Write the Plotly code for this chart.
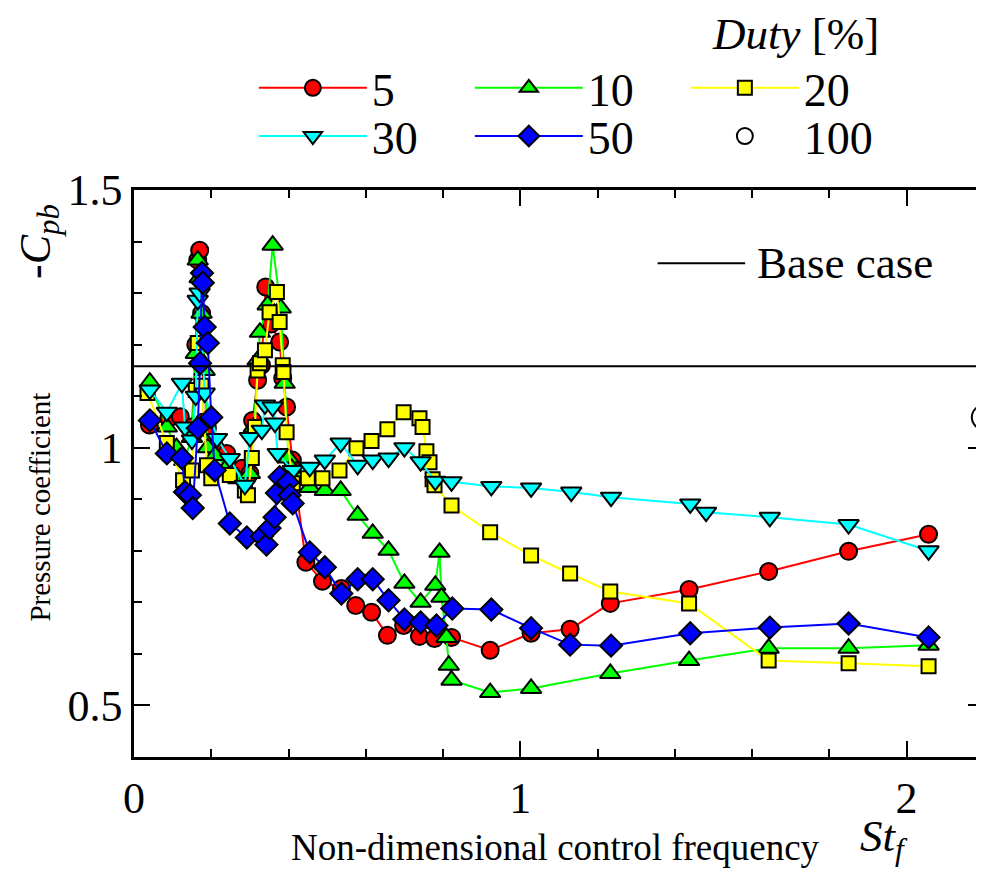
import plotly.graph_objects as go

# ---------------- data ----------------
red_x = [0.040, 0.090, 0.120, 0.150, 0.160, 0.165, 0.170, 0.175, 0.180, 0.190, 0.210, 0.240, 0.280, 0.300,
         0.307, 0.320, 0.330, 0.341, 0.355, 0.377, 0.385, 0.395, 0.410, 0.445, 0.488, 0.537, 0.574, 0.615,
         0.656, 0.698, 0.739, 0.778, 0.822, 0.922, 1.028, 1.129, 1.233, 1.437, 1.643, 1.850, 2.057]
red_y = [1.044, 1.057, 1.060, 1.040, 1.200, 1.364, 1.383, 1.261, 1.050, 1.038, 1.000, 0.989, 0.960, 0.950,
         1.053, 1.131, 1.160, 1.312, 1.240, 1.205, 1.135, 1.079, 0.976, 0.778, 0.741, 0.727, 0.694, 0.681,
         0.636, 0.655, 0.634, 0.630, 0.632, 0.607, 0.640, 0.648, 0.698, 0.725, 0.760, 0.799, 0.832]

green_x = [0.041, 0.085, 0.110, 0.130, 0.150, 0.160, 0.165, 0.170, 0.175, 0.183, 0.191, 0.210, 0.240, 0.270,
           0.300, 0.310, 0.320, 0.326, 0.346, 0.359, 0.380, 0.390, 0.400, 0.408, 0.455, 0.494, 0.535, 0.579,
           0.618, 0.659, 0.700, 0.742, 0.780, 0.791, 0.796, 0.809, 0.815, 0.822, 0.922, 1.028, 1.233, 1.437,
           1.643, 1.850, 2.057]
green_y = [1.127, 1.040, 1.000, 0.975, 1.020, 1.183, 1.364, 1.330, 1.261, 1.150, 1.000, 0.985, 0.962, 0.940,
           0.950, 1.040, 1.170, 1.224, 1.277, 1.393, 1.271, 1.125, 0.980, 0.960, 0.923, 0.917, 0.917, 0.869,
           0.834, 0.801, 0.737, 0.700, 0.733, 0.797, 0.710, 0.632, 0.578, 0.549, 0.525, 0.533, 0.562, 0.587,
           0.611, 0.611, 0.617]

yellow_x = [0.035, 0.085, 0.127, 0.150, 0.160, 0.165, 0.175, 0.189, 0.200, 0.248, 0.287, 0.295, 0.305, 0.313,
            0.320, 0.326, 0.339, 0.351, 0.370, 0.377, 0.385, 0.387, 0.395, 0.411, 0.450, 0.488, 0.532, 0.576,
            0.615, 0.656, 0.698, 0.739, 0.747, 0.757, 0.765, 0.773, 0.778, 0.822, 0.922, 1.028, 1.129, 1.233,
            1.437, 1.643, 1.850, 2.057]
yellow_y = [1.106, 1.009, 0.937, 0.956, 1.112, 1.203, 1.120, 0.966, 0.941, 0.947, 0.917, 0.908, 0.980, 1.040,
            1.150, 1.164, 1.189, 1.263, 1.302, 1.244, 1.160, 1.147, 1.030, 0.931, 0.941, 0.941, 0.956, 0.999,
            1.013, 1.036, 1.069, 1.057, 1.040, 0.993, 0.972, 0.939, 0.927, 0.888, 0.836, 0.791, 0.756, 0.721,
            0.698, 0.587, 0.582, 0.576]

cyan_x = [0.041, 0.085, 0.124, 0.132, 0.150, 0.160, 0.165, 0.170, 0.183, 0.215, 0.248, 0.287, 0.300, 0.331,
          0.339, 0.359, 0.365, 0.372, 0.411, 0.455, 0.494, 0.535, 0.579, 0.618, 0.659, 0.700, 0.742, 0.780,
          0.822, 0.925, 1.028, 1.132, 1.235, 1.440, 1.481, 1.646, 1.850, 2.057]
cyan_y = [1.112, 1.069, 1.125, 1.040, 1.015, 1.100, 1.286, 1.300, 1.106, 1.018, 0.979, 0.927, 1.020, 1.034,
          1.083, 1.079, 1.048, 0.989, 0.956, 0.962, 0.976, 1.009, 0.966, 0.976, 0.980, 1.000, 0.973, 0.935,
          0.934, 0.925, 0.922, 0.914, 0.904, 0.891, 0.875, 0.865, 0.851, 0.800]

blue_x = [0.041, 0.085, 0.124, 0.132, 0.145, 0.152, 0.165, 0.171, 0.176, 0.178, 0.183, 0.191, 0.200, 0.209,
          0.248, 0.292, 0.331, 0.343, 0.351, 0.364, 0.370, 0.377, 0.398, 0.403, 0.411, 0.455, 0.494, 0.537,
          0.579, 0.618, 0.659, 0.700, 0.742, 0.783, 0.824, 0.925, 1.028, 1.129, 1.235, 1.440, 1.646, 1.850, 2.057]
blue_y = [1.053, 0.989, 0.980, 0.914, 0.908, 0.883, 1.038, 1.164, 1.339, 1.320, 1.234, 1.203, 1.059, 0.956,
          0.853, 0.826, 0.828, 0.812, 0.844, 0.865, 0.912, 0.943, 0.933, 0.908, 0.892, 0.797, 0.768, 0.717,
          0.745, 0.745, 0.704, 0.667, 0.661, 0.655, 0.688, 0.686, 0.650, 0.618, 0.616, 0.640, 0.651, 0.659, 0.632]

full_x = [2.2]
full_y = [1.059]

base_case = 1.158

series_names = ["5", "10", "20", "30", "50", "100"]

# ---------------- style ----------------
FONT = "Liberation Serif, Times New Roman, serif"
OUT = dict(color="black", width=2)

fig = go.Figure()

def add_series(x, y, name, color, symbol, size, legend):
    fig.add_trace(go.Scatter(
        x=x, y=y, name=name, mode="lines+markers", legend=legend,
        line=dict(color=color, width=2),
        marker=dict(symbol=symbol, size=size, color=color, line=OUT),
    ))

add_series(red_x, red_y, series_names[0], "#ff0000", "circle", 17, "legend")
add_series(green_x, green_y, series_names[1], "#00ff00", "triangle-up", 18, "legend")
add_series(yellow_x, yellow_y, series_names[2], "#ffff00", "square", 14, "legend")
add_series(cyan_x, cyan_y, series_names[3], "#00ffff", "triangle-down", 18, "legend2")
add_series(blue_x, blue_y, series_names[4], "#0000ff", "diamond", 17, "legend2")

fig.add_trace(go.Scatter(
    x=full_x, y=full_y, name=series_names[5], mode="markers", cliponaxis=False, legend="legend2",
    marker=dict(symbol="circle-open", size=24, color="black", line=dict(color="black", width=2)),
))

# invisible trace to activate the right-hand tick axis
fig.add_trace(go.Scatter(x=[None], y=[None], yaxis="y2", showlegend=False, hoverinfo="skip"))

# base case line
fig.add_shape(type="line", xref="paper", x0=0, x1=1, yref="y", y0=base_case, y1=base_case,
              line=dict(color="black", width=2))
# base case key
fig.add_shape(type="line", xref="paper", x0=0.616, x1=0.719, yref="paper", y0=0.871, y1=0.871,
              line=dict(color="black", width=2))
fig.add_annotation(text="Base case", xref="paper", yref="paper", x=0.731, y=0.871,
                   xanchor="left", yanchor="middle", showarrow=False,
                   font=dict(family=FONT, size=45, color="black"))

# legend title
fig.add_annotation(text="<i>Duty</i> [%]", xref="paper", yref="paper", x=0.879, y=1.276,
                   xanchor="right", yanchor="middle", showarrow=False,
                   font=dict(family=FONT, size=45, color="black"))

# axis titles
fig.add_annotation(text="Non-dimensional control frequency", xref="paper", yref="paper",
                   x=0.496, y=-0.160, xanchor="center", yanchor="middle", showarrow=False,
                   font=dict(family=FONT, size=37, color="black"))
fig.add_annotation(text="<i>St<sub>f</sub></i>", xref="paper", yref="paper",
                   x=0.882, y=-0.145, xanchor="center", yanchor="middle", showarrow=False,
                   font=dict(family=FONT, size=45, color="black"))
fig.add_annotation(text="Pressure coefficient", xref="paper", yref="paper",
                   x=-0.111, y=0.441, xanchor="center", yanchor="middle", showarrow=False,
                   textangle=-90, font=dict(family=FONT, size=29, color="black"))
fig.add_annotation(text="<i>-C<sub>pb</sub></i>", xref="paper", yref="paper",
                   x=-0.113, y=0.910, xanchor="center", yanchor="middle", showarrow=False,
                   textangle=-90, font=dict(family=FONT, size=44, color="black"))

axis_common = dict(showgrid=False, zeroline=False, ticks="inside", tickcolor="black",
                   tickwidth=2, linecolor="black", linewidth=2.5,
                   tickfont=dict(family=FONT, size=44, color="black"))

legend_common = dict(orientation="h", xanchor="left", yanchor="middle",
                     entrywidth=93, entrywidthmode="pixels", itemwidth=108,
                     traceorder="normal", bgcolor="rgba(0,0,0,0)",
                     font=dict(family=FONT, size=46, color="black"))

# the page body has an 8 px margin, so the figure is 8 px smaller and margins shifted
fig.update_layout(
    width=976, height=864, autosize=False,
    margin=dict(l=126, r=0, t=182, b=115, autoexpand=False),
    plot_bgcolor="white", paper_bgcolor="white",
    font=dict(family=FONT, color="black"),
    xaxis=dict(range=[0, 2.2005], dtick=1, tick0=0, ticklen=16, showline=True, mirror="ticks",
               minor=dict(dtick=0.2, ticks="inside", ticklen=8, tickcolor="black", tickwidth=2),
               **axis_common),
    yaxis=dict(range=[0.4, 1.5], dtick=0.5, tick0=0, ticklen=16, showline=True, mirror=False,
               minor=dict(dtick=0.1, ticks="inside", ticklen=8, tickcolor="black", tickwidth=2),
               **axis_common),
    yaxis2=dict(range=[0.4, 1.5], overlaying="y", side="right", anchor="x", dtick=0.5, tick0=0,
                ticklen=16, showline=False, showticklabels=False, showgrid=False, zeroline=False,
                ticks="inside", tickcolor="black", tickwidth=2,
                minor=dict(dtick=0.1, ticks="inside", ticklen=8, tickcolor="black", tickwidth=2)),
    showlegend=True,
    legend=dict(x=0.141, y=1.180, **legend_common),
    legend2=dict(x=0.141, y=1.095, **legend_common),
)

fig.write_html("out.html")
